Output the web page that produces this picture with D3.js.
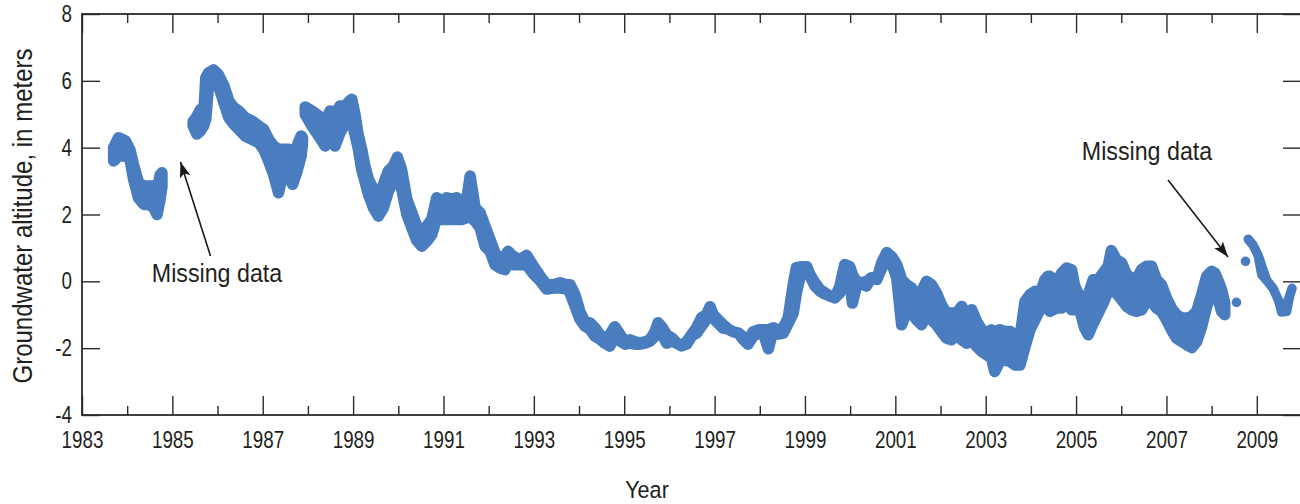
<!DOCTYPE html>
<html><head><meta charset="utf-8">
<script src="https://cdn.jsdelivr.net/npm/d3@7"></script>
<style>
body{margin:0;background:#fff;}
text{font-family:"Liberation Sans",Arial,sans-serif;fill:#231f20;}
</style></head><body>
<svg id="chart" width="1300" height="504"></svg>
<script>
// [year, low, high] of the plotted daily groundwater-altitude band (meters)
const seg1 = [
[1983.70,3.60,4.00],[1983.81,3.75,4.30],[1983.96,3.75,4.20],[1984.06,3.66,3.94],
[1984.14,3.06,3.49],[1984.25,2.50,2.95],[1984.37,2.30,2.85],[1984.48,2.30,2.85],
[1984.59,2.20,2.85],[1984.66,2.00,2.70],[1984.73,2.46,3.19],[1984.77,2.85,3.25]];
const seg2 = [
[1985.46,4.65,4.78],[1985.54,4.41,4.93],[1985.62,4.50,5.14],[1985.69,4.65,4.90],
[1985.74,4.86,6.09],[1985.80,5.85,6.24],[1985.91,6.08,6.33],[1986.02,5.85,6.18],
[1986.14,5.35,5.85],[1986.25,4.90,5.40],[1986.36,4.70,5.20],[1986.47,4.55,5.10],
[1986.61,4.35,4.90],[1986.76,4.25,4.80],[1986.91,4.15,4.65],[1987.02,3.95,4.55],
[1987.13,3.60,4.25],[1987.24,3.20,4.05],[1987.35,2.65,3.95],[1987.46,3.35,3.95],
[1987.57,3.15,3.95],[1987.66,2.90,3.60],[1987.76,3.30,4.05],[1987.85,3.75,4.35],
[1987.88,4.14,4.30]];
const seg3 = [
[1987.94,5.00,5.22],[1988.09,4.65,5.10],[1988.24,4.35,4.95],[1988.38,4.05,4.75],
[1988.49,4.25,5.10],[1988.60,4.05,4.95],[1988.71,4.45,5.25],[1988.82,4.70,5.25],
[1988.97,4.85,5.45],[1989.04,4.40,5.00],[1989.11,4.00,4.40],[1989.19,3.35,3.95],
[1989.26,3.00,3.45],[1989.34,2.60,3.05],[1989.45,2.20,2.75],[1989.56,1.95,2.55],
[1989.67,2.20,2.90],[1989.78,2.70,3.30],[1989.89,3.00,3.45],[1989.98,3.15,3.72],
[1990.07,2.80,3.35],[1990.19,2.00,2.45],[1990.30,1.60,2.05],[1990.41,1.22,1.65],
[1990.52,1.05,1.45],[1990.63,1.20,1.65],[1990.74,1.40,1.85],[1990.85,1.90,2.50],
[1990.96,1.85,2.40],[1991.07,1.85,2.50],[1991.18,1.85,2.45],[1991.29,1.85,2.50],
[1991.40,1.85,2.40],[1991.51,1.90,2.40],[1991.59,1.95,3.15],[1991.70,1.80,2.20],
[1991.81,1.60,2.05],[1991.92,1.05,1.65],[1992.03,0.90,1.25],[1992.14,0.50,0.85],
[1992.25,0.40,0.65],[1992.36,0.35,0.75],[1992.43,0.55,0.90],[1992.54,0.50,0.75],
[1992.69,0.50,0.65],[1992.84,0.50,0.78],[1992.99,0.22,0.45],[1993.14,0.02,0.15],
[1993.28,-0.23,-0.10],[1993.43,-0.20,-0.10],[1993.58,-0.20,-0.04],[1993.73,-0.23,-0.10],
[1993.80,-0.35,-0.10],[1993.91,-0.74,-0.40],[1994.02,-1.13,-0.91],[1994.13,-1.34,-1.21],
[1994.24,-1.43,-1.24],[1994.35,-1.64,-1.39],[1994.46,-1.73,-1.60],[1994.57,-1.85,-1.69],
[1994.68,-1.94,-1.60],[1994.79,-1.64,-1.36],[1994.91,-1.79,-1.60],[1995.02,-1.88,-1.81],
[1995.13,-1.85,-1.75],[1995.24,-1.88,-1.81],[1995.35,-1.88,-1.84],[1995.46,-1.85,-1.81],
[1995.57,-1.79,-1.75],[1995.68,-1.64,-1.51],[1995.75,-1.43,-1.24],[1995.83,-1.55,-1.36],
[1995.94,-1.85,-1.60],[1996.05,-1.79,-1.69],[1996.16,-1.85,-1.84],[1996.27,-1.93,-1.93],
[1996.38,-1.88,-1.81],[1996.49,-1.64,-1.60],[1996.60,-1.55,-1.39],[1996.71,-1.34,-1.09],
[1996.82,-1.13,-1.00],[1996.90,-0.98,-0.76],[1996.97,-1.10,-1.00],[1997.08,-1.25,-1.15],
[1997.19,-1.40,-1.30],[1997.30,-1.43,-1.43],[1997.41,-1.51,-1.51],[1997.52,-1.54,-1.54],
[1997.63,-1.73,-1.66],[1997.74,-1.88,-1.81],[1997.85,-1.64,-1.51],[1997.97,-1.55,-1.45],
[1998.08,-1.55,-1.45],[1998.19,-2.02,-1.45],[1998.30,-1.43,-1.39],[1998.41,-1.58,-1.45],
[1998.52,-1.55,-1.39],[1998.63,-1.25,-1.09],[1998.74,-0.95,-0.10],[1998.81,-0.35,0.41],
[1998.93,0.37,0.44],[1999.04,0.25,0.44],[1999.11,0.16,0.20],[1999.22,-0.14,-0.04],
[1999.33,-0.29,-0.25],[1999.44,-0.38,-0.34],[1999.55,-0.44,-0.44],[1999.66,-0.50,-0.49],
[1999.77,-0.35,-0.16],[1999.88,0.16,0.50],[1999.99,0.07,0.44],[2000.05,-0.65,0.20],
[2000.14,-0.14,-0.01],[2000.25,-0.08,-0.04],[2000.36,-0.14,-0.01],[2000.47,0.10,0.11],
[2000.59,0.06,0.06],[2000.70,0.40,0.56],[2000.81,0.70,0.86],[2000.92,0.55,0.74],
[2001.03,0.10,0.50],[2001.14,-1.30,0.05],[2001.25,-0.90,-0.10],[2001.36,-0.95,-0.20],
[2001.47,-1.15,-0.45],[2001.58,-1.30,-0.30],[2001.69,-1.00,0.00],[2001.80,-1.15,-0.10],
[2001.91,-1.30,-0.35],[2002.02,-1.50,-0.70],[2002.13,-1.70,-0.95],[2002.24,-1.75,-0.95],
[2002.36,-1.60,-0.95],[2002.47,-1.75,-0.75],[2002.58,-1.85,-1.05],[2002.69,-1.75,-0.85],
[2002.80,-1.95,-1.20],[2002.91,-2.10,-1.45],[2003.02,-2.20,-1.55],[2003.13,-2.30,-1.45],
[2003.20,-2.70,-1.75],[2003.31,-2.40,-1.45],[2003.42,-2.35,-1.50],[2003.54,-2.40,-1.50],
[2003.65,-2.50,-1.60],[2003.76,-2.50,-1.65],[2003.87,-1.95,-0.60],[2003.98,-1.45,-0.40],
[2004.09,-1.15,-0.30],[2004.20,-0.85,-0.40],[2004.31,-0.70,0.05],[2004.38,-0.55,0.15],
[2004.42,-0.90,0.15],[2004.57,-0.80,-0.05],[2004.68,-0.80,0.25],[2004.79,-0.60,0.40],
[2004.90,-0.85,0.35],[2004.97,-0.85,-0.15],[2005.08,-0.85,-0.45],[2005.19,-1.40,-0.50],
[2005.27,-1.60,-0.40],[2005.38,-1.25,0.05],[2005.49,-0.95,0.05],[2005.60,-0.65,0.25],
[2005.71,-0.30,0.45],[2005.78,0.05,0.92],[2005.89,-0.35,0.65],[2006.01,-0.55,0.55],
[2006.12,-0.75,0.20],[2006.23,-0.85,0.10],[2006.34,-0.90,0.05],[2006.45,-0.85,0.35],
[2006.56,-0.60,0.45],[2006.67,-0.60,0.45],[2006.78,-0.80,0.05],[2006.89,-0.90,-0.10],
[2007.00,-1.15,-0.50],[2007.11,-1.45,-0.80],[2007.22,-1.70,-1.00],[2007.34,-1.80,-1.10],
[2007.45,-1.90,-1.10],[2007.56,-1.98,-1.05],[2007.67,-1.80,-0.90],[2007.78,-1.35,-0.40],
[2007.89,-0.75,0.15],[2008.00,-0.35,0.30],[2008.07,-0.30,0.25],[2008.15,-0.55,0.00],
[2008.22,-0.90,-0.25],[2008.29,-1.00,-0.65]];
const isolated = [[2008.55,-0.63],[2008.75,0.60]];
const seg4 = [
[2008.81,1.26,1.26],[2008.92,1.08,1.08],[2009.03,0.78,0.78],[2009.11,0.20,0.45],
[2009.22,0.03,0.03],[2009.36,-0.21,-0.21],[2009.48,-0.57,-0.57],[2009.55,-0.92,-0.80],
[2009.66,-0.90,-0.70],[2009.73,-0.42,-0.42],[2009.78,-0.21,-0.21]];

const yTicks = [-4,-2,0,2,4,6,8];
const majorYears = [1983,1985,1987,1989,1991,1993,1995,1997,1999,2001,2003,2005,2007,2009];
const minorYears = [1984,1986,1988,1990,1992,1994,1996,1998,2000,2002,2004,2006,2008];
const annotations = [
  {text:"Missing data", tx:217, ty:282, x1:210.5, y1:256, x2:180.5, y2:162},
  {text:"Missing data", tx:1147, ty:160, x1:1168, y1:180, x2:1228, y2:257}
];

const svg = d3.select("#chart");
const x = d3.scaleLinear().domain([1983,2010]).range([82,1302]);
const y = d3.scaleLinear().domain([-4,8]).range([415,14]);
const color = "#4a7dbf";
const axisColor = "#2b2b2b";
const SX = 0.8; // horizontal condensation for tick labels

// data band
const area = d3.area().x(d=>x(d[0])).y0(d=>y(d[1])).y1(d=>y(d[2]));
[seg1, seg2, seg3].forEach(s => {
  svg.append("path").attr("d", area(s))
    .attr("fill", color).attr("stroke", color).attr("stroke-width", 11.5)
    .attr("stroke-linejoin", "round").attr("stroke-linecap", "round");
});
svg.append("path").attr("d", area(seg4))
  .attr("fill", color).attr("stroke", color).attr("stroke-width", 9.5)
  .attr("stroke-linejoin", "round").attr("stroke-linecap", "round");
svg.selectAll("circle.iso").data(isolated).join("circle").attr("class","iso")
  .attr("cx", d=>x(d[0])).attr("cy", d=>y(d[1])).attr("r", 4.8).attr("fill", color);

// axes
function styleAxis(g){
  g.select(".domain").remove();
  g.selectAll(".tick line").attr("stroke", axisColor).attr("stroke-width", 1.4);
  g.selectAll("text").attr("font-size", 23.5).attr("fill", "#231f20")
   .attr("font-family", '"Liberation Sans",Arial,sans-serif')
   .attr("transform", `scale(${SX},1)`);
}
const plain = d => String(d);
svg.append("g").attr("transform","translate(0,415)")
  .call(d3.axisBottom(x).tickValues(majorYears).tickFormat(plain).tickSizeInner(-19).tickSizeOuter(0).tickPadding(16))
  .call(styleAxis);
svg.append("g").attr("transform","translate(0,415)")
  .call(d3.axisBottom(x).tickValues(minorYears).tickFormat("").tickSizeInner(-9).tickSizeOuter(0))
  .call(styleAxis);
svg.append("g").attr("transform","translate(0,14)")
  .call(d3.axisTop(x).tickValues(majorYears).tickFormat("").tickSizeInner(-19).tickSizeOuter(0))
  .call(styleAxis);
svg.append("g").attr("transform","translate(0,14)")
  .call(d3.axisTop(x).tickValues(minorYears).tickFormat("").tickSizeInner(-9).tickSizeOuter(0))
  .call(styleAxis);
svg.append("g").attr("transform","translate(82,0)")
  .call(d3.axisLeft(y).tickValues(yTicks).tickFormat(plain).tickSizeInner(-18).tickSizeOuter(0).tickPadding(10/SX))
  .call(styleAxis);
svg.append("g").attr("transform","translate(1302,0)")
  .call(d3.axisRight(y).tickValues(yTicks).tickFormat("").tickSizeInner(-19).tickSizeOuter(0))
  .call(styleAxis);

// frame
svg.append("rect").attr("x", x(1983)).attr("y", y(8))
  .attr("width", x(2010)-x(1983)).attr("height", y(-4)-y(8))
  .attr("fill","none").attr("stroke", axisColor).attr("stroke-width", 1.8);

// titles
svg.append("text").attr("transform","translate(647,498) scale(0.92,1)").attr("text-anchor","middle")
  .attr("font-size", 23.5).text("Year");
svg.append("text").attr("transform","translate(32,216) rotate(-90) scale(0.89,1)").attr("text-anchor","middle")
  .attr("font-size", 27).text("Groundwater altitude, in meters");

// annotations
svg.append("defs").append("marker").attr("id","ah")
  .attr("viewBox","0 0 14 10").attr("refX",14).attr("refY",5)
  .attr("markerWidth",16).attr("markerHeight",11).attr("markerUnits","userSpaceOnUse")
  .attr("orient","auto")
  .append("path").attr("d","M0,0 L14,5 L0,10 L3,5 Z").attr("fill","#1a1a1a");
annotations.forEach(a => {
  svg.append("text").attr("transform", `translate(${a.tx},${a.ty}) scale(0.93,1)`).attr("text-anchor","middle")
    .attr("font-size", 25).text(a.text);
  svg.append("line").attr("x1", a.x1).attr("y1", a.y1).attr("x2", a.x2).attr("y2", a.y2)
    .attr("stroke","#1a1a1a").attr("stroke-width",1.6).attr("marker-end","url(#ah)");
});
</script>
</body></html>
